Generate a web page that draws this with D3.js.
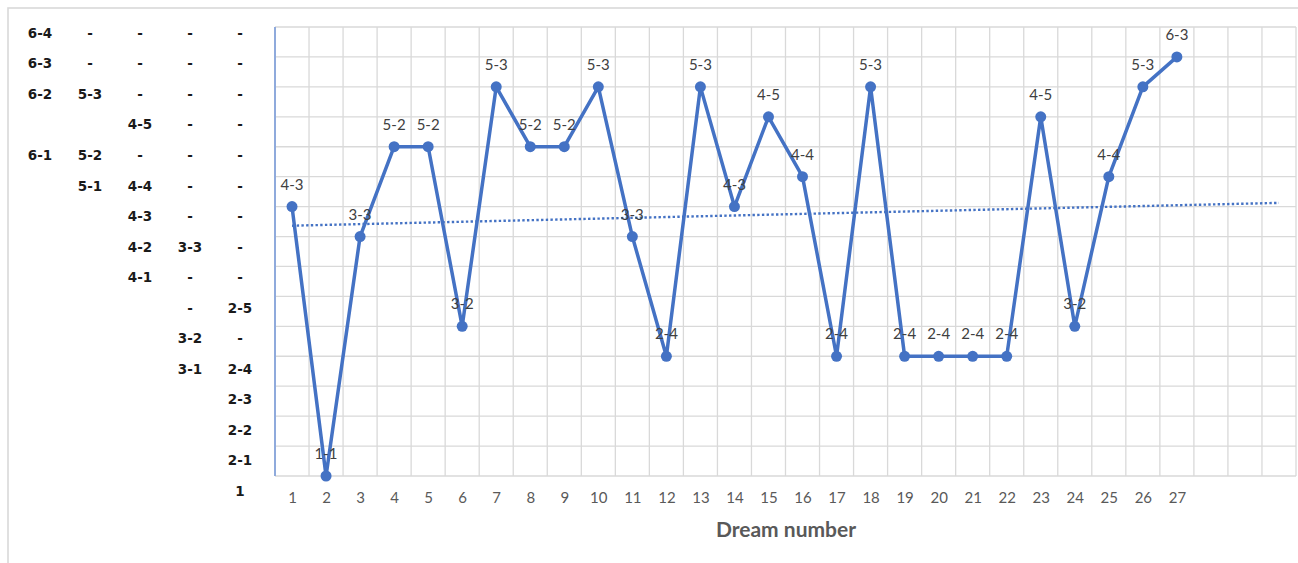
<!DOCTYPE html>
<html>
<head>
<meta charset="utf-8">
<script src="https://cdn.jsdelivr.net/npm/d3@7"></script>
<style>
  html, body { margin: 0; padding: 0; background: #ffffff; }
  svg { display: block; }
</style>
</head>
<body>
<svg id="chart" width="1298" height="563"></svg>
<script>
// ---------------- data ----------------
const dreamNumbers = [1,2,3,4,5,6,7,8,9,10,11,12,13,14,15,16,17,18,19,20,21,22,23,24,25,26,27];
const dreamCodes = ["4-3","1-1","3-3","5-2","5-2","3-2","5-3","5-2","5-2","5-3","3-3","2-4","5-3","4-3","4-5","4-4","2-4","5-3","2-4","2-4","2-4","2-4","4-5","3-2","4-4","5-3","6-3"];
const dreamLevels = [9,0,8,11,11,5,13,11,11,13,8,4,13,9,12,10,4,13,4,4,4,4,12,5,10,13,14];
const axisSlots = 30;          // number of category slots on the x axis
const levelMax = 15;           // number of level rows above the bottom
// left-hand level table, top row (level 15) to bottom row (level 0)
const tableLevels = [15,14,13,12,11,10,9,8,7,6,5,4,3,2,1,0];
const tableRows = [
  ["6-4","-","-","-","-"],
  ["6-3","-","-","-","-"],
  ["6-2","5-3","-","-","-"],
  ["","","4-5","-","-"],
  ["6-1","5-2","-","-","-"],
  ["","5-1","4-4","-","-"],
  ["","","4-3","-","-"],
  ["","","4-2","3-3","-"],
  ["","","4-1","-","-"],
  ["","","","-","2-5"],
  ["","","","3-2","-"],
  ["","","","3-1","2-4"],
  ["","","","","2-3"],
  ["","","","","2-2"],
  ["","","","","2-1"],
  ["","","","","1"]
];
const xTitle = "Dream number";

// ---------------- layout ----------------
const svg = d3.select("#chart");
const plot = { left: 275, right: 1296, top: 27, bottom: 476 };
const blue = "#4472C4";
const grid = "#d9d9d9";

const x = d3.scaleLinear().domain([0.5, axisSlots + 0.5]).range([plot.left, plot.right]);
const y = d3.scaleLinear().domain([0, levelMax]).range([plot.bottom, plot.top]);
const rowY = d3.scaleLinear().domain([levelMax, 0]).range([33, 491]);
const colX = d3.scalePoint().domain([0,1,2,3,4]).range([40, 240]);

// outer frame (only top and left edges visible)
svg.append("rect")
  .attr("x", 8).attr("y", 8).attr("width", 1400).attr("height", 700)
  .attr("fill", "none").attr("stroke", grid).attr("stroke-width", 1.6);

// grid
const g = svg.append("g");
g.selectAll("line.h").data(d3.range(0, levelMax + 1)).enter().append("line")
  .attr("x1", plot.left).attr("x2", plot.right)
  .attr("y1", d => y(d)).attr("y2", d => y(d))
  .attr("stroke", grid).attr("stroke-width", 1.3);
g.selectAll("line.v").data(d3.range(0, axisSlots + 1)).enter().append("line")
  .attr("y1", plot.top).attr("y2", plot.bottom)
  .attr("x1", d => x(d + 0.5)).attr("x2", d => x(d + 0.5))
  .attr("stroke", grid).attr("stroke-width", 1.3);

// left axis line
svg.append("line")
  .attr("x1", plot.left).attr("x2", plot.left)
  .attr("y1", plot.top).attr("y2", plot.bottom)
  .attr("stroke", "#8FAADC").attr("stroke-width", 2);

// x axis tick labels
const xAxis = d3.axisBottom(x).tickValues(dreamNumbers).tickSize(0).tickPadding(0).tickFormat(d3.format("d"));
const xg = svg.append("g").attr("transform", `translate(0,${plot.bottom})`).call(xAxis);
xg.select(".domain").remove();
xg.selectAll("text")
  .attr("y", 27).attr("dy", null)
  .attr("font-family", "Lato, 'Open Sans', sans-serif")
  .attr("font-size", 15).attr("fill", "#595959");

// x axis title
svg.append("text")
  .attr("x", 786).attr("y", 537)
  .attr("text-anchor", "middle")
  .attr("font-family", "Lato, 'Open Sans', sans-serif")
  .attr("font-weight", "bold").attr("font-size", 21)
  .attr("fill", "#595959")
  .text(xTitle);

// left level table
const tg = svg.append("g")
  .attr("font-family", "'DejaVu Sans', Verdana, sans-serif")
  .attr("font-weight", "bold").attr("font-size", 13.5).attr("fill", "#1a1a1a");
tableRows.forEach((row, i) => {
  row.forEach((cell, j) => {
    if (!cell) return;
    tg.append("text")
      .attr("x", colX(j)).attr("y", rowY(tableLevels[i]))
      .attr("dy", "0.36em")
      .attr("text-anchor", "middle")
      .text(cell);
  });
});

// trendline (least squares on the series, extended across all slots)
const mx = d3.mean(dreamNumbers), my = d3.mean(dreamLevels);
let sxy = 0, sxx = 0;
dreamNumbers.forEach((d, i) => { sxy += (d - mx) * (dreamLevels[i] - my); sxx += (d - mx) * (d - mx); });
const slope = sxy / sxx, intercept = my - slope * mx;
svg.append("line")
  .attr("x1", x(1)).attr("y1", y(intercept + slope * 1))
  .attr("x2", x(axisSlots)).attr("y2", y(intercept + slope * axisSlots))
  .attr("stroke", blue).attr("stroke-width", 2.4)
  .attr("stroke-dasharray", "2.4,2.3");

// series line
const pts = dreamNumbers.map((d, i) => ({ n: d, v: dreamLevels[i], c: dreamCodes[i] }));
svg.append("path")
  .datum(pts)
  .attr("d", d3.line().x(d => x(d.n)).y(d => y(d.v)))
  .attr("fill", "none").attr("stroke", blue).attr("stroke-width", 3.5)
  .attr("stroke-linejoin", "round");

svg.selectAll("circle.pt").data(pts).enter().append("circle")
  .attr("cx", d => x(d.n)).attr("cy", d => y(d.v)).attr("r", 5.5)
  .attr("fill", blue);

// data labels
svg.selectAll("text.lbl").data(pts).enter().append("text")
  .attr("x", d => x(d.n)).attr("y", d => y(d.v) - 17)
  .attr("text-anchor", "middle")
  .attr("font-family", "Lato, 'Open Sans', sans-serif")
  .attr("font-size", 15).attr("fill", "#404040")
  .text(d => d.c);
</script>
</body>
</html>
